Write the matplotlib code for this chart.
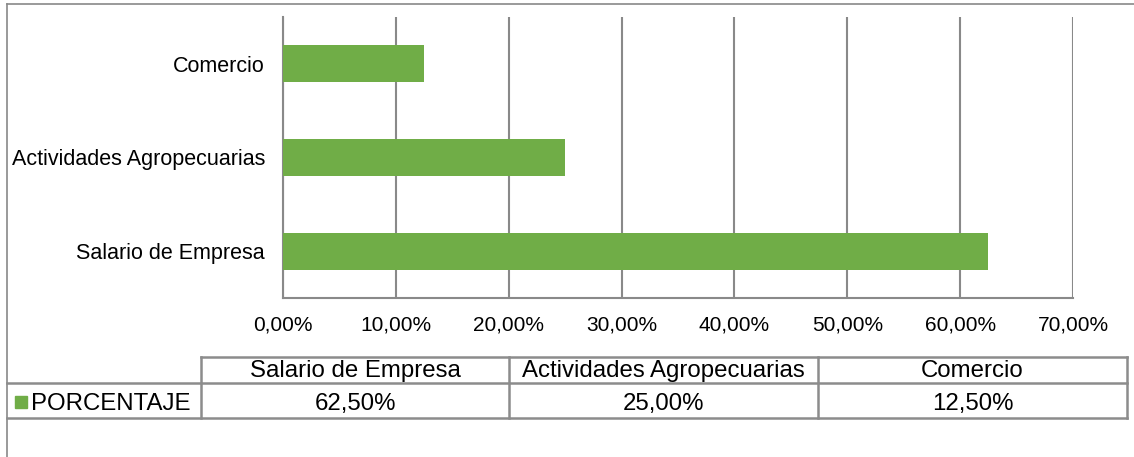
import numpy as np
import matplotlib
matplotlib.use("Agg")
import matplotlib.pyplot as plt
from matplotlib.lines import Line2D
from matplotlib.patches import Rectangle

plt.rcParams['font.family'] = ['Liberation Sans', 'DejaVu Sans']

# data
categorias = ['Salario de Empresa', 'Actividades Agropecuarias', 'Comercio']
porcentaje = [62.5, 25.0, 12.5]
serie = 'PORCENTAJE'
ticks = [0, 10, 20, 30, 40, 50, 60, 70]

W, H = 1134, 457
verde = '#70AD47'
gris = '#898989'

fig = plt.figure(figsize=(W / 100, H / 100), dpi=100)

def fx(px):
    return px / W

def fy(py):
    return 1 - py / H

# chart area
ax = fig.add_axes([fx(283), fy(298), fx(1073) - fx(283), fy(17) - fy(298)])
ypos = np.arange(len(categorias))
ax.barh(ypos, porcentaje, height=0.395, color=verde, zorder=3)
ax.set_xlim(0, 70)
ax.set_ylim(-0.5, len(categorias) - 0.5)
ax.set_xticks(ticks)
ax.set_xticklabels(['%d,00%%' % t for t in ticks], fontsize=15)
ax.set_yticks(ypos)
ax.set_yticklabels(categorias, fontsize=15.5)
ax.tick_params(axis='x', length=0, pad=12.5)
ax.tick_params(axis='y', length=0, pad=13)
ax.grid(axis='x', color=gris, linewidth=1.5, zorder=0)
for s in ['top', 'right']:
    ax.spines[s].set_visible(False)
for s in ['left', 'bottom']:
    ax.spines[s].set_color(gris)
    ax.spines[s].set_linewidth(1.5)

# outer frame
fig.add_artist(Line2D([fx(7), 1], [fy(4), fy(4)], color=gris, lw=1.2))
fig.add_artist(Line2D([fx(7), fx(7)], [fy(4), 0], color=gris, lw=1.2))

# data table
cols = [201, 509, 818, 1127]
r0, r1, r2 = 357, 383, 418
lc = '#8c8c8c'
def hl(x0, x1, y):
    fig.add_artist(Line2D([fx(x0), fx(x1)], [fy(y), fy(y)], color=lc, lw=1.8))
def vl(x, y0, y1):
    fig.add_artist(Line2D([fx(x), fx(x)], [fy(y0), fy(y1)], color=lc, lw=1.8))

hl(cols[0], cols[-1], r0)
hl(7, cols[-1], r1)
hl(7, cols[-1], r2)
for c in cols:
    vl(c, r0, r2)

fs = 17.3
for i, (cat, val) in enumerate(zip(categorias, porcentaje)):
    xc = (cols[i] + cols[i + 1]) / 2
    fig.text(fx(xc), fy(377), cat, ha='center', va='baseline', fontsize=fs)
    fig.text(fx(xc), fy(410), ('%.2f%%' % val).replace('.', ','),
             ha='center', va='baseline', fontsize=fs)

fig.add_artist(Rectangle((fx(15), fy(408)), fx(12), fy(396) - fy(408), color=verde))
fig.text(fx(31), fy(410), serie, ha='left', va='baseline', fontsize=fs)

fig.savefig('out.png', dpi=100)
